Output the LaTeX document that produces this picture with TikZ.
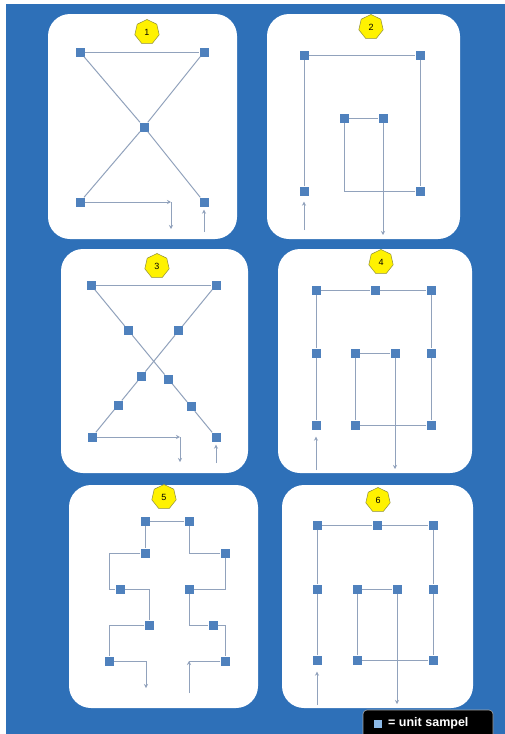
\documentclass[tikz,border=0pt]{standalone}
\usepackage{fontspec}
\setmainfont{Liberation Sans}
\usetikzlibrary{shapes.geometric,arrows.meta,calc}
\definecolor{bgblue}{RGB}{46,112,184}
\definecolor{sqblue}{RGB}{79,129,189}
\definecolor{ln}{RGB}{145,162,188}
\definecolor{badgeedge}{RGB}{140,140,60}
\definecolor{lblsq}{RGB}{140,185,230}
\begin{document}
\begin{tikzpicture}[x=1pt,y=-1pt,
 panel/.style={fill=white, rounded corners=22pt},
 sq/.style={fill=sqblue, minimum size=9pt, inner sep=0pt},
 link/.style={draw=ln, line width=1pt},
 arr/.style={link, -{Stealth[length=4pt,width=4pt]}},
 badge/.style={regular polygon, regular polygon sides=7, fill=yellow, draw=badgeedge, line width=0.5pt, minimum size=25pt, inner sep=0pt, font=\fontsize{9}{9}\selectfont}]
\useasboundingbox (0,0) rectangle (505,734);
\fill[bgblue] (6,4) rectangle (505,734);
% panels
\fill[panel] (48,14) rectangle (237,239);
\fill[panel] (267,14) rectangle (460,239);
\fill[panel] (61,249) rectangle (248,473);
\fill[panel] (278,249) rectangle (472,473);
\fill[panel] (69,485) rectangle (258,708);
\fill[panel] (282,485) rectangle (473,708);
% badges
\node[badge] (b1) at (147,32) {1};
\node[badge] (b2) at (371,27) {2};
\node[badge] (b3) at (157,266) {3};
\node[badge] (b4) at (381,262) {4};
\node[badge] (b5) at (164,497) {5};
\node[badge] (b6) at (378,500) {6};
% ---------- panel 1
\node[sq] (p1tl) at (80,52) {};
\node[sq] (p1tr) at (204,52) {};
\node[sq] (p1m) at (144,127) {};
\node[sq] (p1bl) at (80,202) {};
\node[sq] (p1br) at (204,202) {};
\coordinate (p1k) at (171,202);
\coordinate (p1o) at (171,229);
\coordinate (p1i) at (204,232);
\draw[link] (p1tl) -- (p1tr);
\draw[link] (p1tl) -- (p1m) -- (p1br);
\draw[link] (p1tr) -- (p1m) -- (p1bl);
\draw[arr] (p1bl) -- (p1k);
\draw[arr] (p1k) -- (p1o);
\draw[arr, shorten >=3pt] (p1i) -- (p1br);
% ---------- panel 2
\node[sq] (p2tl) at (304,55) {};
\node[sq] (p2tr) at (420,55) {};
\node[sq] (p2il) at (344,118) {};
\node[sq] (p2ir) at (383,118) {};
\node[sq] (p2bl) at (304,191) {};
\node[sq] (p2br) at (420,191) {};
\coordinate (p2k) at (344,191);
\coordinate (p2o) at (383,235);
\coordinate (p2i) at (304,230);
\draw[link] (p2bl) -- (p2tl) -- (p2tr) -- (p2br) -- (p2k) -- (p2il) -- (p2ir);
\draw[arr] (p2ir) -- (p2o);
\draw[arr, shorten >=6pt] (p2i) -- (p2bl);
% ---------- panel 3
\coordinate (q3tl) at (91,285);
\coordinate (q3tr) at (216,285);
\coordinate (q3bl) at (92,437);
\coordinate (q3br) at (216,437);
\node[sq] (p3tl) at (q3tl) {};
\node[sq] (p3tr) at (q3tr) {};
\node[sq] (p3bl) at (q3bl) {};
\node[sq] (p3br) at (q3br) {};
\node[sq] (p3a) at ($(q3tl)!0.3!(q3br)$) {};
\node[sq] (p3d) at ($(q3tl)!0.62!(q3br)$) {};
\node[sq] (p3f) at ($(q3tl)!0.8!(q3br)$) {};
\node[sq] (p3b) at ($(q3tr)!0.3!(q3bl)$) {};
\node[sq] (p3c) at ($(q3tr)!0.6!(q3bl)$) {};
\node[sq] (p3e) at ($(q3tr)!0.79!(q3bl)$) {};
\coordinate (p3k) at (180,437);
\coordinate (p3o) at (180,462);
\coordinate (p3i) at (216,463);
\draw[link] (p3tl) -- (p3tr);
\draw[link] (p3tl) -- (p3a) -- (p3d) -- (p3f) -- (p3br);
\draw[link] (p3tr) -- (p3b) -- (p3c) -- (p3e) -- (p3bl);
\draw[arr] (p3bl) -- (p3k);
\draw[arr] (p3k) -- (p3o);
\draw[arr, shorten >=3pt] (p3i) -- (p3br);
% ---------- panel 4
\node[sq] (p4a1) at (316,290) {};
\node[sq] (p4b1) at (375,290) {};
\node[sq] (p4c1) at (431,290) {};
\node[sq] (p4a2) at (316,353) {};
\node[sq] (p4b2) at (355,353) {};
\node[sq] (p4d2) at (395,353) {};
\node[sq] (p4c2) at (431,353) {};
\node[sq] (p4a3) at (316,425) {};
\node[sq] (p4b3) at (355,425) {};
\node[sq] (p4c3) at (431,425) {};
\coordinate (p4o) at (395,469);
\coordinate (p4i) at (316,470);
\draw[link] (p4a3) -- (p4a2) -- (p4a1) -- (p4b1) -- (p4c1) -- (p4c2) -- (p4c3) -- (p4b3) -- (p4b2) -- (p4d2);
\draw[arr] (p4d2) -- (p4o);
\draw[arr, shorten >=7pt] (p4i) -- (p4a3);
% ---------- panel 5
\node[sq] (p5A) at (145,521) {};
\node[sq] (p5B) at (189,521) {};
\node[sq] (p5C) at (145,553) {};
\node[sq] (p5D) at (225,553) {};
\node[sq] (p5E) at (120,589) {};
\node[sq] (p5F) at (189,589) {};
\node[sq] (p5G) at (149,625) {};
\node[sq] (p5H) at (213,625) {};
\node[sq] (p5I) at (109,661) {};
\node[sq] (p5J) at (225,661) {};
\coordinate (p5k1) at (109,553);
\coordinate (p5k2) at (109,589);
\coordinate (p5k3) at (149,589);
\coordinate (p5k4) at (109,625);
\coordinate (p5k5) at (146,661);
\coordinate (p5o) at (146,688);
\coordinate (p5k6) at (189,553);
\coordinate (p5k7) at (225,589);
\coordinate (p5k8) at (189,625);
\coordinate (p5k9) at (225,625);
\coordinate (p5k10) at (189,661);
\coordinate (p5i) at (189,693);
\draw[link] (p5B) -- (p5A) -- (p5C) -- (p5k1) -- (p5k2) -- (p5E) -- (p5k3) -- (p5G) -- (p5k4) -- (p5I) -- (p5k5);
\draw[arr] (p5k5) -- (p5o);
\draw[link] (p5B) -- (p5k6) -- (p5D) -- (p5k7) -- (p5F) -- (p5k8) -- (p5H) -- (p5k9) -- (p5J) -- (p5k10);
\draw[arr] (p5i) -- (p5k10);
% ---------- panel 6
\node[sq] (p6a1) at (317,525) {};
\node[sq] (p6b1) at (377,525) {};
\node[sq] (p6c1) at (433,525) {};
\node[sq] (p6a2) at (317,589) {};
\node[sq] (p6b2) at (357,589) {};
\node[sq] (p6d2) at (397,589) {};
\node[sq] (p6c2) at (433,589) {};
\node[sq] (p6a3) at (317,660) {};
\node[sq] (p6b3) at (357,660) {};
\node[sq] (p6c3) at (433,660) {};
\coordinate (p6o) at (397,704);
\coordinate (p6i) at (317,705);
\draw[link] (p6a3) -- (p6a2) -- (p6a1) -- (p6b1) -- (p6c1) -- (p6c2) -- (p6c3) -- (p6b3) -- (p6b2) -- (p6d2);
\draw[arr] (p6d2) -- (p6o);
\draw[arr, shorten >=7pt] (p6i) -- (p6a3);
% ---------- legend
\draw[fill=black, draw=gray!70, line width=0.6pt, rounded corners=4pt] (363,710) rectangle (493,745);
\node[sq, fill=lblsq, minimum size=8pt] (lsq) at (378,724) {};
\node[anchor=west, text=white, font=\bfseries\fontsize{12.5}{13}\selectfont, inner sep=0pt] (ltxt) at (388,723) {= unit sampel};
\end{tikzpicture}
\end{document}
